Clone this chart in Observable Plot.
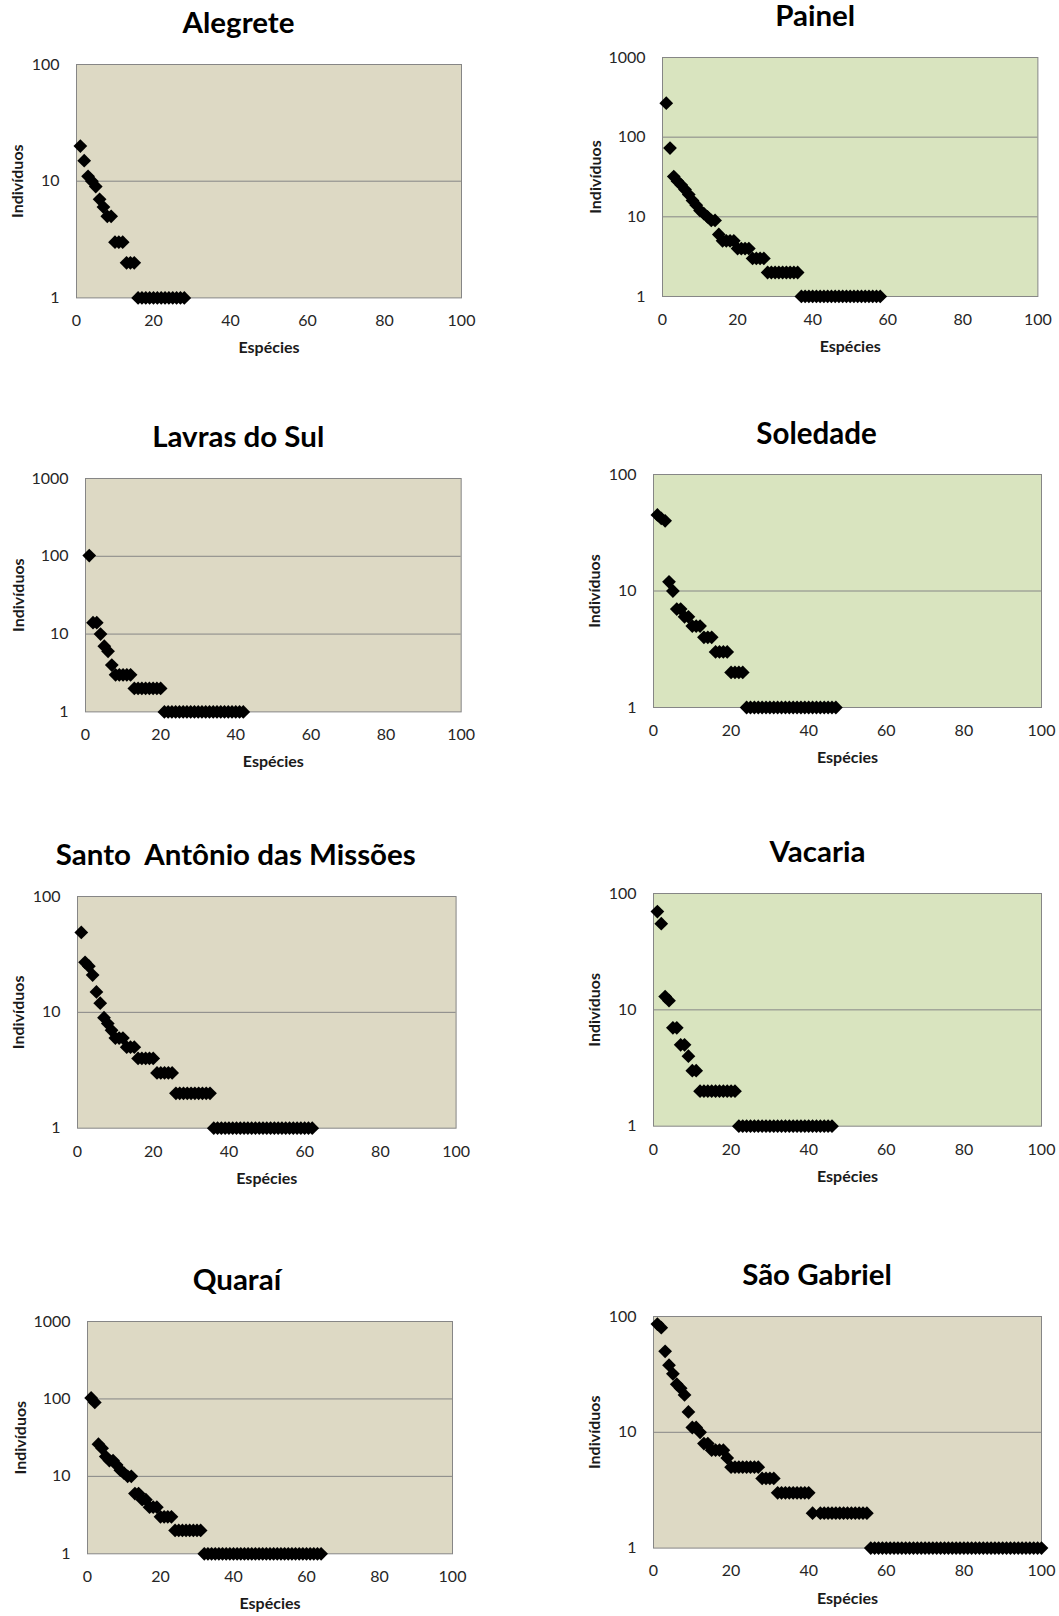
<!DOCTYPE html>
<html>
<head>
<meta charset="utf-8">
<script src="https://cdn.jsdelivr.net/npm/d3@7"></script>
<script src="https://cdn.jsdelivr.net/npm/@observablehq/plot@0.6"></script>
<style>
  body { margin: 0; background: #ffffff; }
  #chart { position: relative; width: 1059px; height: 1616px; font-family: Lato, "Open Sans", sans-serif; }
  #chart svg { position: absolute; overflow: visible; }
</style>
</head>
<body>
<div id="chart"></div>
<script>
// ---- Data: number of individuals per species, ranked (rank = index + 1) ----
const alegrete = [20, 15, 11, 10, 9, 7, 6, 5, 5, 3, 3, 3, 2, 2, 2,
  1, 1, 1, 1, 1, 1, 1, 1, 1, 1, 1, 1, 1];
const painel = [267, 73, 32, 28, 25, 22, 19, 16, 14, 12, 11, 10, 9, 9, 6,
  5, 5, 5, 5, 4, 4, 4, 4, 3, 3, 3, 3, 2, 2, 2, 2, 2, 2, 2, 2, 2,
  1, 1, 1, 1, 1, 1, 1, 1, 1, 1, 1, 1, 1, 1, 1, 1, 1, 1, 1, 1, 1, 1];
const lavrasDoSul = [102, 14, 14, 10, 7, 6, 4, 3, 3, 3, 3, 3, 2, 2, 2, 2, 2, 2, 2, 2,
  1, 1, 1, 1, 1, 1, 1, 1, 1, 1, 1, 1, 1, 1, 1, 1, 1, 1, 1, 1, 1, 1];
const soledade = [45, 42, 40, 12, 10, 7, 7, 6, 6, 5, 5, 5, 4, 4, 4, 3, 3, 3, 3, 2, 2, 2, 2,
  1, 1, 1, 1, 1, 1, 1, 1, 1, 1, 1, 1, 1, 1, 1, 1, 1, 1, 1, 1, 1, 1, 1, 1];
const santoAntonio = [49, 27, 25, 21, 15, 12, 9, 8, 7, 6, 6, 6, 5, 5, 5,
  4, 4, 4, 4, 4, 3, 3, 3, 3, 3, 2, 2, 2, 2, 2, 2, 2, 2, 2, 2,
  1, 1, 1, 1, 1, 1, 1, 1, 1, 1, 1, 1, 1, 1, 1, 1, 1, 1, 1, 1, 1, 1, 1, 1, 1, 1, 1];
const vacaria = [70, 55, 13, 12, 7, 7, 5, 5, 4, 3, 3, 2, 2, 2, 2, 2, 2, 2, 2, 2, 2,
  1, 1, 1, 1, 1, 1, 1, 1, 1, 1, 1, 1, 1, 1, 1, 1, 1, 1, 1, 1, 1, 1, 1, 1, 1];
const quarai = [103, 90, 26, 23, 18, 16, 16, 14, 12, 11, 10, 10, 6, 6, 5, 5, 4, 4, 4,
  3, 3, 3, 3, 2, 2, 2, 2, 2, 2, 2, 2,
  1, 1, 1, 1, 1, 1, 1, 1, 1, 1, 1, 1, 1, 1, 1, 1, 1, 1, 1, 1, 1, 1, 1, 1, 1, 1, 1, 1, 1, 1, 1, 1, 1];
const saoGabriel = [86, 80, 50, 38, 32, 26, 24, 21, 15, 11, 11, 10, 8, 8, 7, 7, 7, 7, 6,
  5, 5, 5, 5, 5, 5, 5, 5, 4, 4, 4, 4, 3, 3, 3, 3, 3, 3, 3, 3, 3,
  2, null, 2, 2, 2, 2, 2, 2, 2, 2, 2, 2, 2, 2, 2,
  1, 1, 1, 1, 1, 1, 1, 1, 1, 1, 1, 1, 1, 1, 1, 1, 1, 1, 1, 1, 1, 1, 1, 1, 1, 1, 1, 1, 1, 1,
  1, 1, 1, 1, 1, 1, 1, 1, 1, 1, 1, 1, 1, 1, 1];

const xTicks = [0, 20, 40, 60, 80, 100];
const xLabel = "Espécies";
const yLabel = "Indivíduos";

// ---- Layout / styling (separate from data) ----
const TAN = "#DDD9C4";
const GREEN = "#D9E4BF";
const panels = [
  {title: "Alegrete", values: alegrete, ymax: 100, bg: TAN, L: 76, R: 461, T: 64.3, B: 297.7, tx: 238},
  {title: "Painel", values: painel, ymax: 1000, bg: GREEN, L: 662.3, R: 1037.7, T: 56.7, B: 295.7, tx: 815},
  {title: "Lavras do Sul", values: lavrasDoSul, ymax: 1000, bg: TAN, L: 85.3, R: 461, T: 478.3, B: 711.7, tx: 238},
  {title: "Soledade", values: soledade, ymax: 100, bg: GREEN, L: 652.7, R: 1040.7, T: 474.3, B: 707.3, tx: 815.7},
  {title: "Santo  Antônio das Missões", values: santoAntonio, ymax: 100, bg: TAN, L: 76.7, R: 455.3, T: 896, B: 1127.7, tx: 235},
  {title: "Vacaria", values: vacaria, ymax: 100, bg: GREEN, L: 652.7, R: 1040.7, T: 893.3, B: 1126, tx: 816.7},
  {title: "Quaraí", values: quarai, ymax: 1000, bg: TAN, L: 87.3, R: 452.3, T: 1321, B: 1553.3, tx: 236.7},
  {title: "São Gabriel", values: saoGabriel, ymax: 100, bg: TAN, L: 652.7, R: 1040.7, T: 1315.7, B: 1547.3, tx: 816.2}
];

const ML = 76, MR = 24, MT = 60, MB = 66;
const container = document.getElementById("chart");

for (const p of panels) {
  const data = p.values.map((v, i) => ({rank: i + 1, value: v})).filter(d => d.value != null);
  const decades = [1, 10, 100, 1000].filter(d => d <= p.ymax);
  const inner = decades.filter(d => d > 1 && d < p.ymax);
  const w = p.R - p.L, h = p.B - p.T;
  const svg = Plot.plot({
    width: w + ML + MR,
    height: h + MT + MB,
    marginLeft: ML, marginRight: MR, marginTop: MT, marginBottom: MB,
    style: {fontFamily: "Lato, 'Open Sans', sans-serif", fontSize: "16px", color: "#262626", background: "transparent", overflow: "visible"},
    x: {domain: [0, 100]},
    y: {type: "log", domain: [1, p.ymax]},
    marks: [
      Plot.frame({fill: p.bg, stroke: null}),
      Plot.ruleY(inner, {stroke: "#868686", strokeWidth: 1}),
      Plot.frame({stroke: "#868686", strokeWidth: 1}),
      Plot.axisX(xTicks, {tickSize: 0, tickPadding: 17, label: null, fontSize: 16}),
      Plot.axisY(decades, {tickSize: 0, tickPadding: 17, label: null, fontSize: 16, tickFormat: d3.format("d")}),
      Plot.dot(data, {x: "rank", y: "value", symbol: "diamond2", r: 6.2, fill: "#000", stroke: "none"}),
      Plot.text([p.title], {frameAnchor: "top", dx: p.tx - (p.L + p.R) / 2, dy: -31, textAnchor: "middle", lineAnchor: "bottom", fontSize: 29.5, fontWeight: "bold", fill: "#000"}),
      Plot.text([xLabel], {frameAnchor: "bottom", dy: 55.5, textAnchor: "middle", lineAnchor: "bottom", fontSize: 16, fontWeight: "bold", fill: "#1a1a1a"}),
      Plot.text([yLabel], {frameAnchor: "left", dx: p.ymax === 1000 ? -67 : -59, rotate: -90, textAnchor: "middle", lineAnchor: "middle", fontSize: 16, fontWeight: "bold", fill: "#1a1a1a"})
    ]
  });
  svg.style.left = (p.L - ML) + "px";
  svg.style.top = (p.T - MT) + "px";
  container.appendChild(svg);
}
</script>
</body>
</html>
